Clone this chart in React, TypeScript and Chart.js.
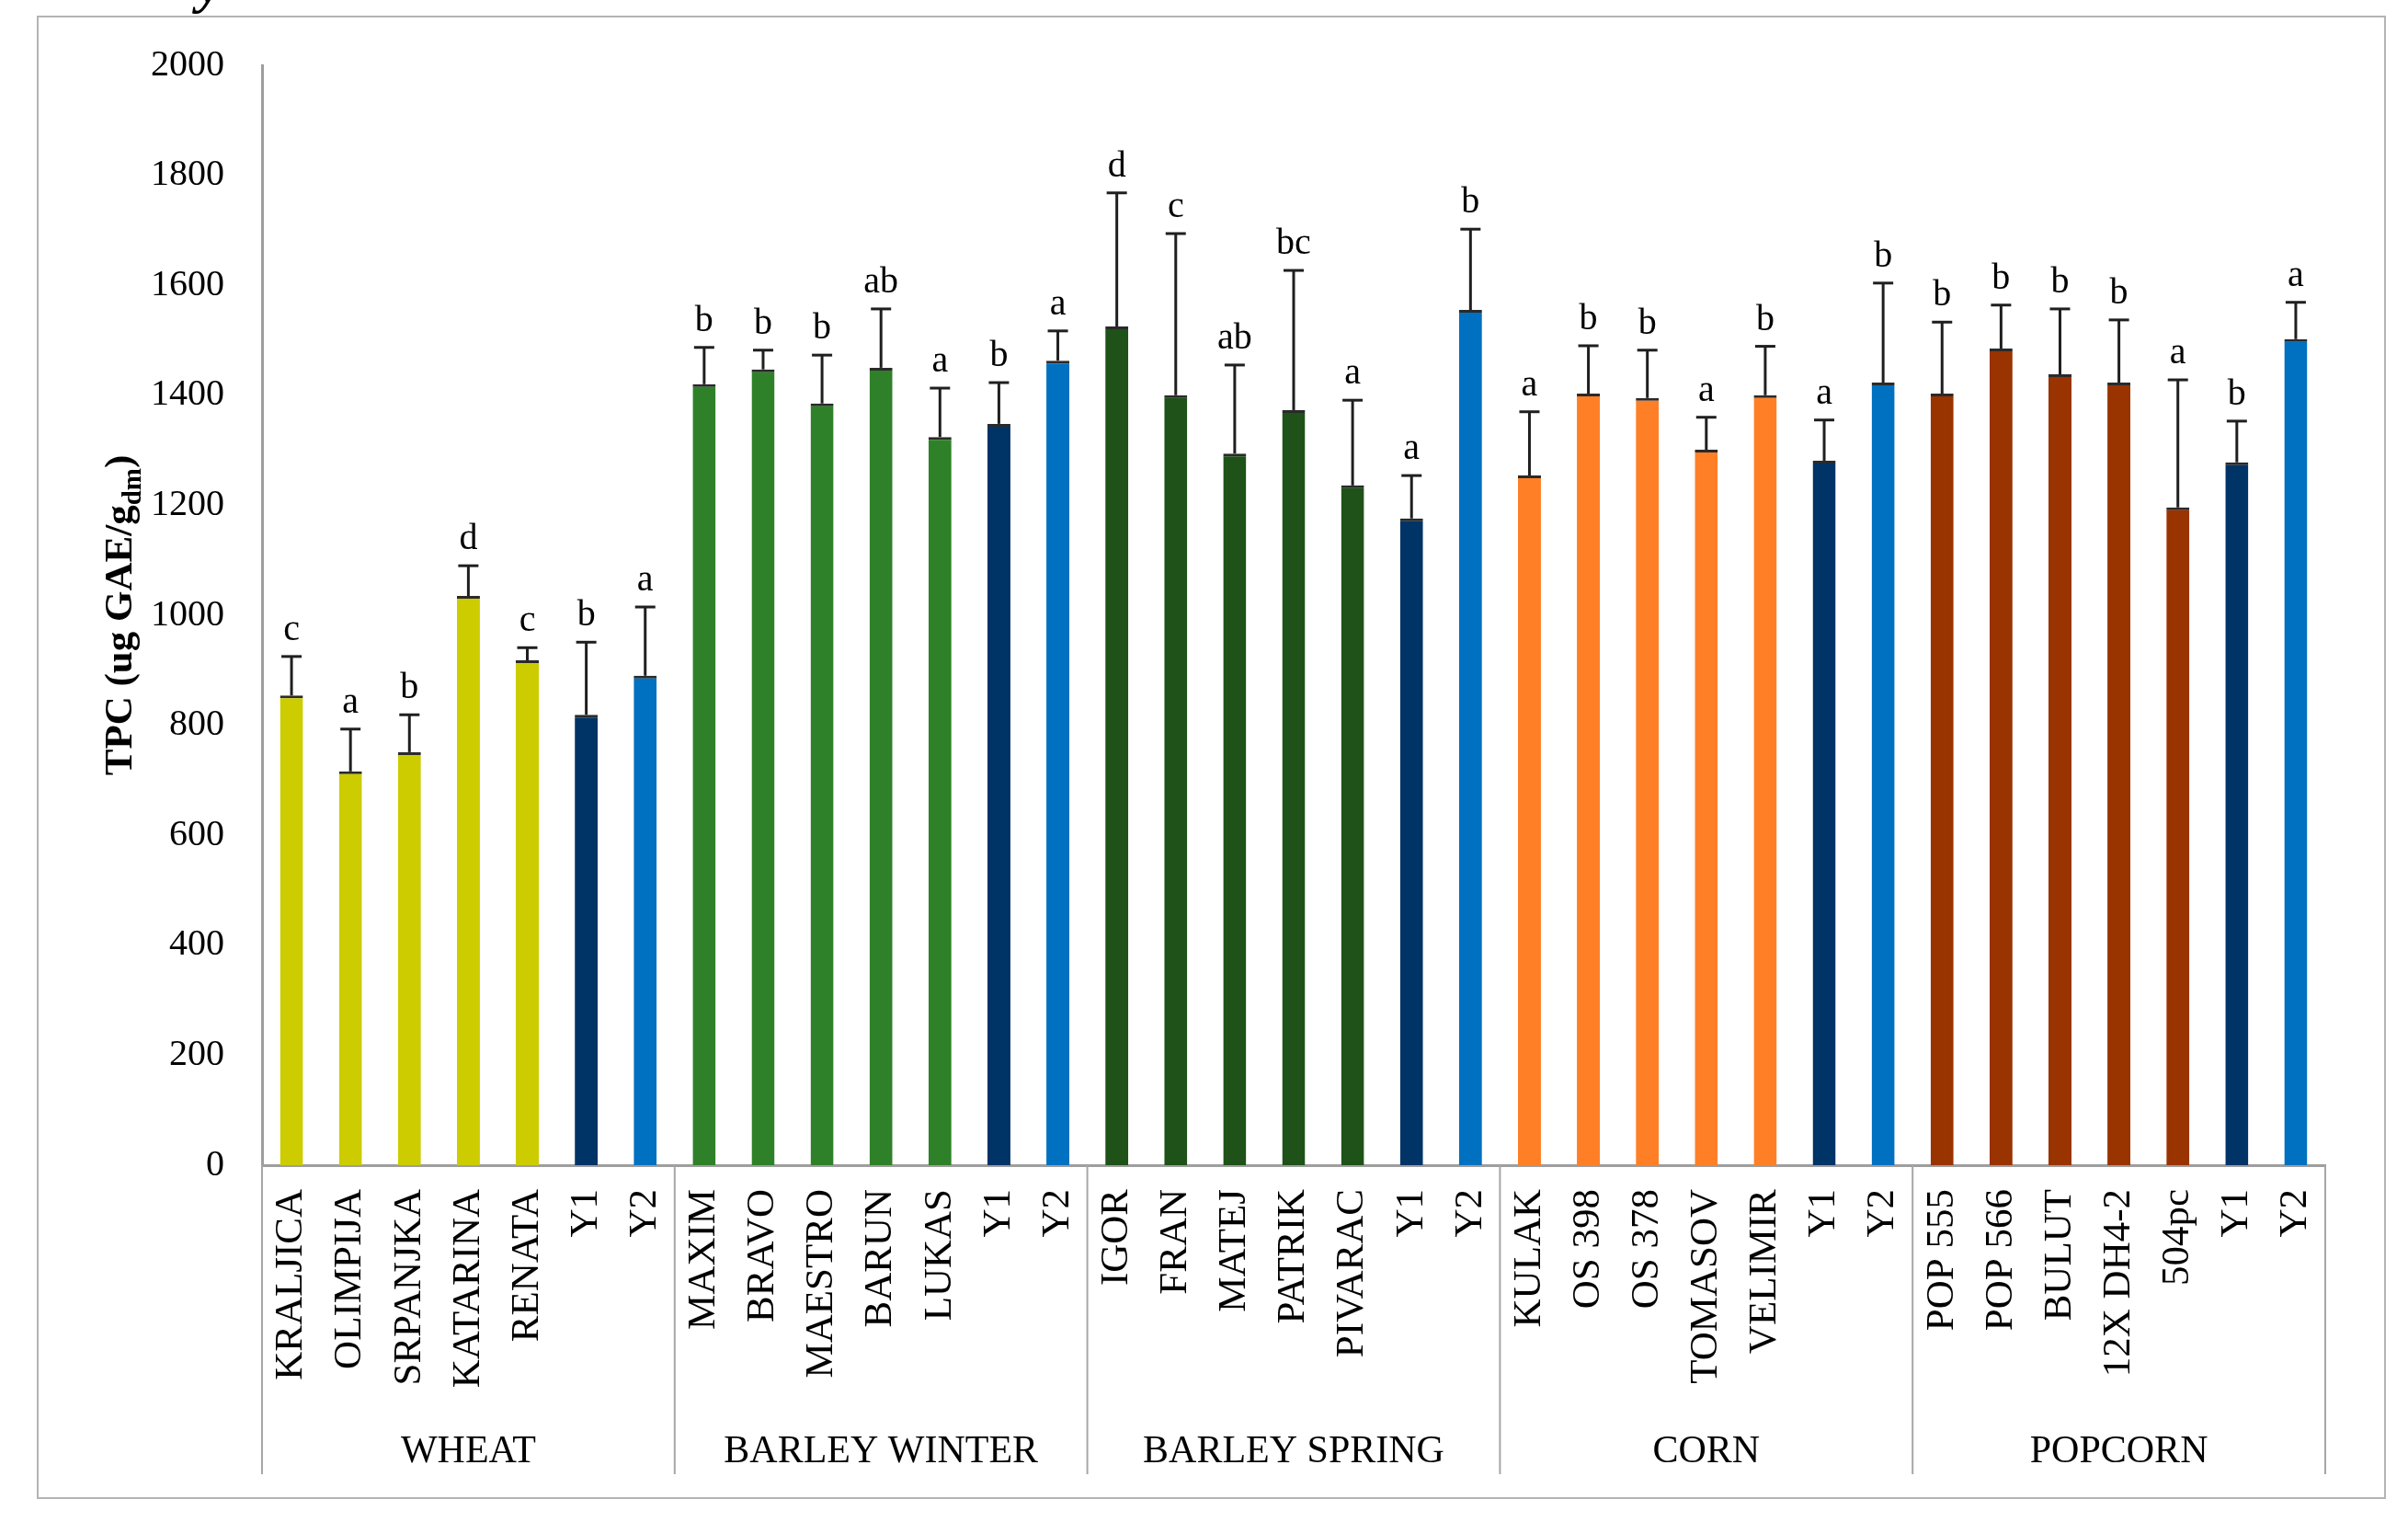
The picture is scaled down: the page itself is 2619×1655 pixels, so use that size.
import React, { useEffect, useRef } from 'react';
import { Chart, registerables } from 'chart.js';

Chart.register(...registerables);

// ---------- data ----------
const groupNames = ['WHEAT', 'BARLEY WINTER', 'BARLEY SPRING', 'CORN', 'POPCORN'];

const wheatLabels = ['KRALJICA', 'OLIMPIJA', 'SRPANJKA', 'KATARINA', 'RENATA', 'Y1', 'Y2'];
const barleyWinterLabels = ['MAXIM', 'BRAVO', 'MAESTRO', 'BARUN', 'LUKAS', 'Y1', 'Y2'];
const barleySpringLabels = ['IGOR', 'FRAN', 'MATEJ', 'PATRIK', 'PIVARAC', 'Y1', 'Y2'];
const cornLabels = ['KULAK', 'OS 398', 'OS 378', 'TOMASOV', 'VELIMIR', 'Y1', 'Y2'];
const popcornLabels = ['POP 555', 'POP 566', 'BULUT', '12X DH4-2', '504pc', 'Y1', 'Y2'];

const wheatValues = [854, 716, 751, 1035, 918, 819, 890];
const barleyWinterValues = [1420, 1447, 1385, 1450, 1324, 1348, 1463];
const barleySpringValues = [1525, 1400, 1294, 1373, 1236, 1176, 1555];
const cornValues = [1254, 1403, 1395, 1301, 1400, 1281, 1423];
const popcornValues = [1403, 1485, 1438, 1423, 1196, 1278, 1502];

const wheatErrors = [71, 77, 68, 55, 23, 132, 125];
const barleyWinterErrors = [67, 35, 88, 107, 89, 75, 54];
const barleySpringErrors = [243, 294, 161, 254, 155, 78, 147];
const cornErrors = [116, 87, 87, 59, 89, 74, 181];
const popcornErrors = [130, 79, 119, 114, 232, 75, 67];

const wheatLetters = ['c', 'a', 'b', 'd', 'c', 'b', 'a'];
const barleyWinterLetters = ['b', 'b', 'b', 'ab', 'a', 'b', 'a'];
const barleySpringLetters = ['d', 'c', 'ab', 'bc', 'a', 'a', 'b'];
const cornLetters = ['a', 'b', 'b', 'a', 'b', 'a', 'b'];
const popcornLetters = ['b', 'b', 'b', 'b', 'a', 'b', 'a'];

const yTicks = [0, 200, 400, 600, 800, 1000, 1200, 1400, 1600, 1800, 2000];

// ---------- styles ----------
const groupColors = ['#CCCC00', '#2F8129', '#1E5218', '#FF7F27', '#993300'];
const Y1_COLOR = '#003366';
const Y2_COLOR = '#0070C0';
const SERIF = '"Liberation Serif", "Times New Roman", serif';

const allLabelGroups = [wheatLabels, barleyWinterLabels, barleySpringLabels, cornLabels, popcornLabels];
const allValueGroups = [wheatValues, barleyWinterValues, barleySpringValues, cornValues, popcornValues];
const allErrorGroups = [wheatErrors, barleyWinterErrors, barleySpringErrors, cornErrors, popcornErrors];
const allLetterGroups = [wheatLetters, barleyWinterLetters, barleySpringLetters, cornLetters, popcornLetters];

const labels = allLabelGroups.flat();
const values = allValueGroups.flat();
const errors = allErrorGroups.flat();
const letters = allLetterGroups.flat();
const groupSizes = allLabelGroups.map((g) => g.length);
const colors: string[] = [];
allLabelGroups.forEach((g, gi) => {
  g.forEach((lab) => {
    if (lab === 'Y1') colors.push(Y1_COLOR);
    else if (lab === 'Y2') colors.push(Y2_COLOR);
    else colors.push(groupColors[gi]);
  });
});

const overlayPlugin = {
  id: 'overlay',
  afterDatasetsDraw(chart: any) {
    const ctx = chart.ctx;
    const meta = chart.getDatasetMeta(0);
    const ys = chart.scales.y;
    ctx.save();
    meta.data.forEach((bar: any, i: number) => {
      const top = ys.getPixelForValue(values[i] + errors[i]);
      const x = bar.x;
      ctx.strokeStyle = '#1f1f1f';
      ctx.lineWidth = 3;
      ctx.beginPath();
      ctx.moveTo(x, bar.y);
      ctx.lineTo(x, top);
      ctx.stroke();
      ctx.beginPath();
      ctx.moveTo(x - 11, top);
      ctx.lineTo(x + 11, top);
      ctx.stroke();
      ctx.fillStyle = '#000';
      ctx.font = `40px ${SERIF}`;
      ctx.textAlign = 'center';
      ctx.textBaseline = 'alphabetic';
      ctx.fillText(letters[i], x, top - 18);
    });
    ctx.restore();
  },
  afterDraw(chart: any) {
    const ctx = chart.ctx;
    const xs = chart.scales.x;
    const area = chart.chartArea;
    // group boundaries
    const bounds: number[] = [];
    let idx = 0;
    bounds.push(area.left);
    groupSizes.forEach((n) => {
      idx += n;
      if (idx >= labels.length) bounds.push(area.right);
      else bounds.push((xs.getPixelForValue(idx - 1) + xs.getPixelForValue(idx)) / 2);
    });
    ctx.save();
    ctx.strokeStyle = '#A6A6A6';
    ctx.lineWidth = 2;
    bounds.forEach((bx) => {
      ctx.beginPath();
      ctx.moveTo(bx, area.bottom);
      ctx.lineTo(bx, area.bottom + 336);
      ctx.stroke();
    });
    ctx.fillStyle = '#000';
    ctx.font = `42px ${SERIF}`;
    ctx.textAlign = 'center';
    ctx.textBaseline = 'alphabetic';
    groupNames.forEach((name, gi) => {
      ctx.fillText(name, (bounds[gi] + bounds[gi + 1]) / 2, area.bottom + 323);
    });
    // y-axis title with subscript
    const cx = 129;
    const cy = (area.top + area.bottom) / 2;
    ctx.translate(cx, cy);
    ctx.rotate(-Math.PI / 2);
    const mainFont = `bold 43px ${SERIF}`;
    const subFont = `bold 29px ${SERIF}`;
    const p1 = 'TPC (ug GAE/g';
    const p2 = 'dm';
    const p3 = ')';
    ctx.font = mainFont;
    const w1 = ctx.measureText(p1).width;
    const w3 = ctx.measureText(p3).width;
    ctx.font = subFont;
    const w2 = ctx.measureText(p2).width;
    const total = w1 + w2 + w3;
    let sx = -total / 2;
    ctx.textAlign = 'left';
    ctx.textBaseline = 'alphabetic';
    ctx.font = mainFont;
    ctx.fillText(p1, sx, 14);
    sx += w1;
    ctx.font = subFont;
    ctx.fillText(p2, sx, 24);
    sx += w2;
    ctx.font = mainFont;
    ctx.fillText(p3, sx, 14);
    ctx.restore();
  },
};

export default function App() {
  const canvasRef = useRef<HTMLCanvasElement | null>(null);

  useEffect(() => {
    if (!canvasRef.current) return;
    const chart = new Chart(canvasRef.current, {
      type: 'bar',
      data: {
        labels,
        datasets: [
          {
            data: values,
            backgroundColor: colors,
            borderColor: '#2a2a2a',
            borderWidth: { top: 3, left: 0, right: 0, bottom: 0 },
            borderSkipped: 'start',
            barPercentage: 0.39,
            categoryPercentage: 1,
          },
        ],
      },
      options: {
        responsive: false,
        animation: false,
        devicePixelRatio: 1,
        layout: { padding: { left: 0, right: 90, top: 71, bottom: 0 } },
        plugins: {
          legend: { display: false },
          tooltip: { enabled: false },
          title: { display: false },
        },
        scales: {
          x: {
            type: 'category',
            grid: { display: false, drawTicks: false },
            border: { display: true, color: '#9E9E9E', width: 3 },
            ticks: {
              autoSkip: false,
              minRotation: 90,
              maxRotation: 90,
              padding: 26,
              color: '#000',
              font: { family: SERIF, size: 43 },
            },
            afterFit: (scale: any) => {
              scale.height = 388;
            },
          },
          y: {
            min: 0,
            max: 2000,
            afterBuildTicks: (scale: any) => {
              scale.ticks = yTicks.map((v) => ({ value: v }));
            },
            grid: { display: false, drawTicks: false },
            border: { display: true, color: '#9E9E9E', width: 3 },
            ticks: {
              padding: 41,
              color: '#000',
              font: { family: SERIF, size: 40 },
              callback: (v: any) => String(v),
            },
            afterFit: (scale: any) => {
              scale.width = 285;
            },
          },
        },
      },
      plugins: [overlayPlugin],
    });
    return () => chart.destroy();
  }, []);

  return (
    <div
      style={{
        position: 'fixed',
        left: 0,
        top: 0,
        width: 2619,
        height: 1655,
        background: '#fff',
        overflow: 'hidden',
      }}
    >
      <span
        style={{
          position: 'absolute',
          left: 215,
          top: -48,
          fontFamily: SERIF,
          fontWeight: 'bold',
          fontStyle: 'italic',
          fontSize: 60,
          lineHeight: '60px',
          color: '#000',
        }}
      >
        y
      </span>
      <div
        style={{
          position: 'absolute',
          left: 40,
          top: 17,
          width: 2555,
          height: 1613,
          border: '2px solid #B4B4B4',
          boxSizing: 'border-box',
        }}
      />
      <canvas
        ref={canvasRef}
        width={2619}
        height={1655}
        style={{ position: 'absolute', left: 0, top: 0, width: 2619, height: 1655 }}
      />
    </div>
  );
}
